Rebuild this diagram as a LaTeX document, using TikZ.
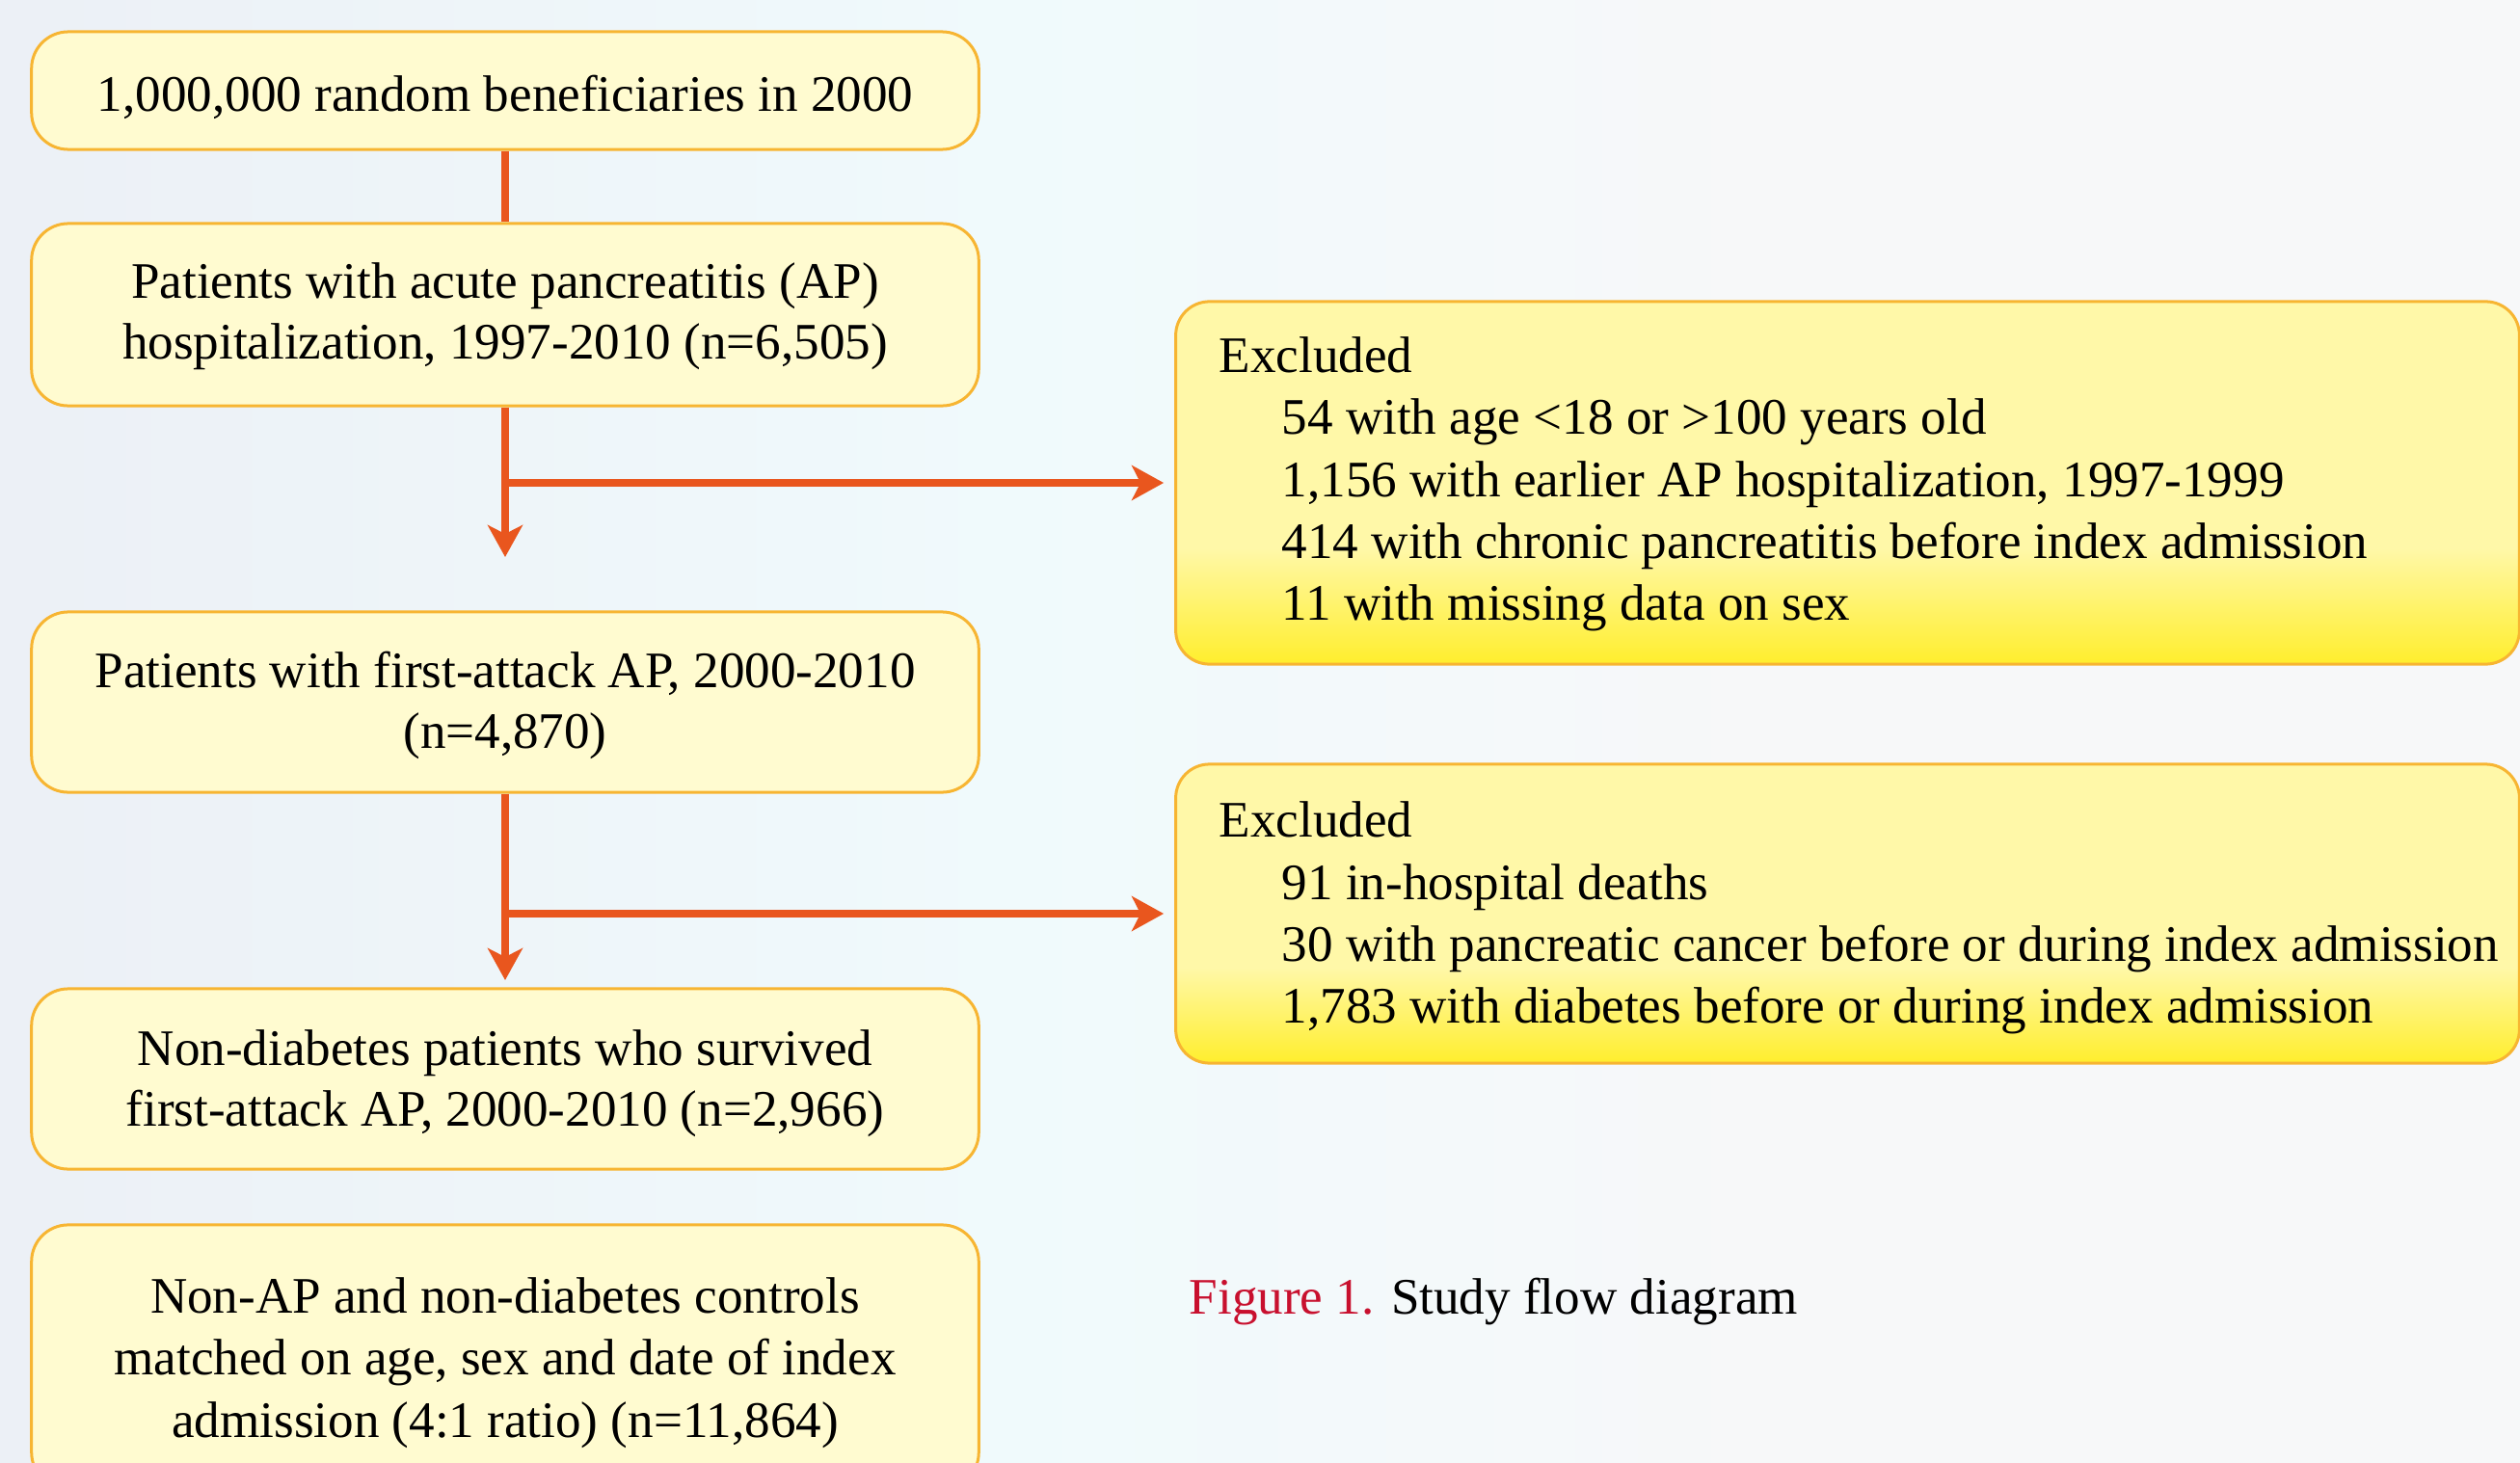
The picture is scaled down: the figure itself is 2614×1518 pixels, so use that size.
\documentclass[tikz,border=0pt]{standalone}
\usepackage{fontspec}
\setmainfont{Liberation Serif}
\usetikzlibrary{arrows.meta}
\definecolor{bgL}{RGB}{236,240,246}
\definecolor{bgM}{RGB}{240,250,252}
\definecolor{bgR}{RGB}{247,248,249}
\definecolor{boxfill}{RGB}{255,251,208}
\definecolor{boxline}{RGB}{247,181,50}
\definecolor{extop}{RGB}{255,248,168}
\definecolor{exbot}{RGB}{255,238,45}
\definecolor{arrowc}{RGB}{233,86,30}
\definecolor{figred}{RGB}{200,16,46}
\pgfdeclareverticalshading{exshade}{100bp}{color(0bp)=(exbot); color(25bp)=(exbot); color(41bp)=(extop); color(100bp)=(extop)}
\pgfdeclarehorizontalshading{bgshade}{100bp}{color(0bp)=(bgL); color(25bp)=(bgL); color(45bp)=(bgM); color(60bp)=(bgR); color(100bp)=(bgR)}
\tikzset{
  flowbox/.style={draw=boxline, line width=0.03cm, fill=boxfill, rounded corners=0.38cm,
    minimum width=9.82cm, inner sep=0pt},
  flowtext/.style={align=center, inner sep=0pt, font=\fontsize{15.1}{18}\selectfont},
  exbox/.style={draw=boxline, line width=0.03cm, shade, shading=exshade, rounded corners=0.35cm,
    minimum width=13.93cm, inner sep=0pt},
  extext/.style={anchor=west, align=left, inner sep=0pt, font=\fontsize{15.1}{18.27}\selectfont},
  flowline/.style={draw=arrowc, line width=0.08cm},
  flowarrow/.style={flowline, -{Stealth[length=0.33cm, width=0.36cm, inset=0.09cm]}},
}
\begin{document}
\begin{tikzpicture}[x=0.01cm, y=-0.01cm]
\useasboundingbox (0,0) rectangle (2614,1518);
\clip (0,0) rectangle (2614,1518);
\shade[shading=bgshade] (0,0) rectangle (2614,1518);

\node[flowbox, minimum height=1.22cm] (b1) at (524,94) {};
\node[flowbox, minimum height=1.89cm] (b2) at (524,326.5) {};
\node[flowbox, minimum height=1.87cm] (b3) at (524,728.5) {};
\node[flowbox, minimum height=1.87cm] (b4) at (524,1119.5) {};
\node[flowbox, minimum height=2.74cm] (b5) at (524,1408) {};

\node[flowtext] (b1t) at (524,100.5) {1,000,000 random beneficiaries in 2000};
\node[flowtext] (b2t) at (524,328) {Patients with acute pancreatitis (AP)\\hospitalization, 1997-2010 (n=6,505)};
\node[flowtext] (b3t) at (524,732) {Patients with first-attack AP, 2000-2010\\(n=4,870)};
\node[flowtext] (b4t) at (524,1124.5) {Non-diabetes patients who survived\\first-attack AP, 2000-2010 (n=2,966)};
\node[flowtext, font=\fontsize{15.1}{18.27}\selectfont] (b5t) at (524,1414) {Non-AP and non-diabetes controls\\matched on age, sex and date of index\\admission (4:1 ratio) (n=11,864)};

\node[exbox, minimum height=3.76cm] (ex1) at (1916.5,501) {};
\node[exbox, minimum height=3.10cm] (ex2) at (1916.5,948) {};
\node[extext] (ex1t) at (1264,502.5) {Excluded\\
\hspace*{0.65cm}54 with age <18 or >100 years old\\
\hspace*{0.65cm}1,156 with earlier AP hospitalization, 1997-1999\\
\hspace*{0.65cm}414 with chronic pancreatitis before index admission\\
\hspace*{0.65cm}11 with missing data on sex};
\node[extext] (ex2t) at (1264,952.5) {Excluded\\
\hspace*{0.65cm}91 in-hospital deaths\\
\hspace*{0.65cm}30 with pancreatic cancer before or during index admission\\
\hspace*{0.65cm}1,783 with diabetes before or during index admission};

\node[anchor=base west, inner sep=0pt, font=\fontsize{15.1}{18}\selectfont] (cap) at (1233,1363) {\textcolor{figred}{Figure 1.} Study flow diagram};

\coordinate (a1) at (524,578);
\coordinate (a2) at (524,1017);
\draw[flowline] (b1) -- (b2);
\draw[flowarrow] (b2.south) -- (a1);
\draw[flowarrow] (b2.south |- ex1.west) -- ([xshift=-0.11cm]ex1.west);
\draw[flowarrow] (b3.south) -- (a2);
\draw[flowarrow] (b3.south |- ex2.west) -- ([xshift=-0.11cm]ex2.west);
\end{tikzpicture}
\end{document}
